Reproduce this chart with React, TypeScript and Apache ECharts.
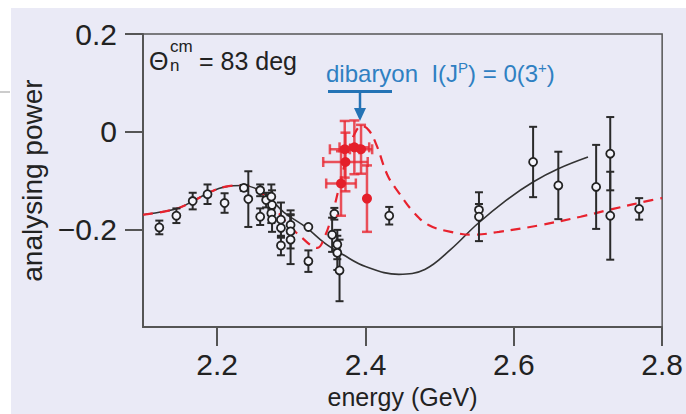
import React, { useEffect, useRef } from 'react';
import * as echarts from 'echarts';

// ---------- data ----------
const xTicks = [2.2, 2.4, 2.6, 2.8];
const yTicks = [-0.2, 0, 0.2];

// open (black) data points: energy, analysing power, error
const blackX = [2.122, 2.145, 2.167, 2.187, 2.21, 2.236, 2.242, 2.258, 2.258, 2.266, 2.273, 2.274, 2.273, 2.274, 2.286, 2.286, 2.286, 2.299, 2.299, 2.299, 2.323, 2.323, 2.358, 2.355, 2.362, 2.362, 2.365, 2.432, 2.553, 2.553, 2.626, 2.66, 2.711, 2.73, 2.73, 2.769];
const blackY = [-0.196, -0.172, -0.142, -0.128, -0.146, -0.115, -0.138, -0.12, -0.174, -0.14, -0.133, -0.15, -0.167, -0.18, -0.18, -0.197, -0.233, -0.191, -0.204, -0.221, -0.195, -0.265, -0.168, -0.211, -0.231, -0.248, -0.284, -0.172, -0.16, -0.174, -0.062, -0.11, -0.113, -0.045, -0.172, -0.158];
const blackErr = [0.014, 0.015, 0.017, 0.02, 0.02, 0.006, 0.057, 0.012, 0.017, 0.015, 0.025, 0.03, 0.02, 0.025, 0.035, 0.02, 0.02, 0.03, 0.035, 0.05, 0, 0.022, 0.012, 0.035, 0.03, 0.035, 0.063, 0.018, 0.012, 0.05, 0.072, 0.069, 0.086, 0.075, 0.09, 0.022];

// filled (red) data points
const redX = [2.367, 2.373, 2.372, 2.385, 2.394, 2.402];
const redY = [-0.106, -0.062, -0.036, -0.032, -0.036, -0.137];
const redYErr = [0.066, 0.06, 0.058, 0.055, 0.05, 0.068];
const redXErr = [0.02, 0.03, 0.02, 0.02, 0.015, 0];

// solid black curve
const solidX = [2.1, 2.13, 2.15, 2.17, 2.19, 2.21, 2.235, 2.25, 2.27, 2.29, 2.32, 2.345, 2.37, 2.4, 2.445, 2.48, 2.515, 2.55, 2.59, 2.626, 2.66, 2.7];
const solidY = [-0.17, -0.163, -0.155, -0.14, -0.124, -0.113, -0.11, -0.115, -0.135, -0.165, -0.196, -0.228, -0.252, -0.276, -0.292, -0.282, -0.241, -0.19, -0.14, -0.103, -0.076, -0.052];

// dashed red curve (with dibaryon)
const dashX = [2.1, 2.13, 2.15, 2.17, 2.19, 2.21, 2.235, 2.25, 2.27, 2.29, 2.315, 2.335, 2.345, 2.355, 2.365, 2.375, 2.385, 2.395, 2.405, 2.415, 2.43, 2.445, 2.465, 2.485, 2.515, 2.545, 2.58, 2.633, 2.69, 2.734, 2.786, 2.8];
const dashY = [-0.17, -0.163, -0.155, -0.14, -0.124, -0.113, -0.11, -0.116, -0.14, -0.18, -0.218, -0.238, -0.215, -0.17, -0.11, -0.05, -0.005, 0.012, 0.002, -0.028, -0.09, -0.125, -0.165, -0.191, -0.205, -0.211, -0.205, -0.192, -0.174, -0.158, -0.14, -0.136];

const FONT = "'Liberation Sans', Arial, sans-serif";

const zip = (a: number[], b: number[]) => a.map((v, i) => [v, b[i]]);

function errorRenderer(color: string, width: number, cap: number) {
  return (params: any, api: any) => {
    const x = api.value(0);
    const y = api.value(1);
    const ey = api.value(2);
    const ex = api.value(3);
    const children: any[] = [];
    const style = { stroke: color, lineWidth: width };
    if (ey > 0) {
      const t = api.coord([x, y + ey]);
      const b = api.coord([x, y - ey]);
      children.push({ type: 'line', shape: { x1: t[0], y1: t[1], x2: b[0], y2: b[1] }, style });
      children.push({ type: 'line', shape: { x1: t[0] - cap, y1: t[1], x2: t[0] + cap, y2: t[1] }, style });
      children.push({ type: 'line', shape: { x1: b[0] - cap, y1: b[1], x2: b[0] + cap, y2: b[1] }, style });
    }
    if (ex > 0) {
      const l = api.coord([x - ex, y]);
      const r = api.coord([x + ex, y]);
      children.push({ type: 'line', shape: { x1: l[0], y1: l[1], x2: r[0], y2: r[1] }, style });
      children.push({ type: 'line', shape: { x1: l[0], y1: l[1] - cap, x2: l[0], y2: l[1] + cap }, style });
      children.push({ type: 'line', shape: { x1: r[0], y1: r[1] - cap, x2: r[0], y2: r[1] + cap }, style });
    }
    return { type: 'group', children };
  };
}

export default function App() {
  const ref = useRef<HTMLDivElement>(null);
  useEffect(() => {
    if (!ref.current) return;
    const chart = echarts.init(ref.current, undefined, { renderer: 'svg' });
    const axisColor = '#555';
    chart.setOption({
      animation: false,
      backgroundColor: '#ffffff',
      textStyle: { fontFamily: FONT },
      grid: {
        left: 143, right: 9, top: 34, bottom: 84,
        show: true, borderColor: axisColor, borderWidth: 1.5, backgroundColor: 'transparent',
      },
      xAxis: {
        type: 'value', min: 2.1, max: 2.8,
        name: 'energy (GeV)', nameLocation: 'middle', nameGap: 50,
        nameTextStyle: { fontSize: 25, color: '#222', fontFamily: FONT },
        axisLine: { show: true, onZero: false, lineStyle: { color: axisColor, width: 2 } },
        axisTick: { show: true, customValues: xTicks, length: 19, lineStyle: { color: axisColor, width: 2 } },
        axisLabel: { customValues: xTicks, fontSize: 30, color: '#222', fontFamily: FONT, margin: 22,
          formatter: (v: number) => v.toFixed(1) },
        splitLine: { show: false },
      },
      yAxis: {
        type: 'value', min: -0.4, max: 0.2,
        name: 'analysing power', nameLocation: 'middle', nameGap: 86, nameRotate: 90,
        nameTextStyle: { fontSize: 28, color: '#222', fontFamily: FONT },
        axisLine: { show: true, onZero: false, lineStyle: { color: axisColor, width: 2 } },
        axisTick: { show: true, customValues: yTicks, length: 18, lineStyle: { color: axisColor, width: 2 } },
        axisLabel: { customValues: yTicks, fontSize: 30, color: '#222', fontFamily: FONT, margin: 26,
          formatter: (v: number) => (Math.abs(v) < 1e-9 ? '0' : (v < 0 ? '\u2212' : '') + Math.abs(v).toFixed(1)) },
        splitLine: { show: false },
      },
      graphic: [
        { type: 'rect', z: -100, silent: true, shape: { x: 11, y: 8, width: 675, height: 406 }, style: { fill: '#eaeaf6' } },
        { type: 'line', silent: true, shape: { x1: 0, y1: 92, x2: 10, y2: 92 }, style: { stroke: '#999', lineWidth: 1 } },
        { type: 'text', x: 149, y: 48, style: { text: 'Θ', fontSize: 25, fill: '#222', fontFamily: FONT } },
        { type: 'text', x: 170, y: 38, style: { text: 'cm', fontSize: 17, fill: '#222', fontFamily: FONT } },
        { type: 'text', x: 170, y: 57, style: { text: 'n', fontSize: 17, fill: '#222', fontFamily: FONT } },
        { type: 'text', x: 199, y: 48, style: { text: '= 83 deg', fontSize: 25, fill: '#222', fontFamily: FONT } },
        {
          type: 'text', x: 326, y: 60,
          style: {
            text: 'dibaryon  I(J{sup|P}) = 0(3{sup|+})', fontSize: 24, fill: '#2f80c2', fontFamily: FONT,
            rich: { sup: { fontSize: 15, fill: '#2f80c2', fontFamily: FONT, verticalAlign: 'top', padding: [0, 0, 12, 0] } },
          },
        },
        { type: 'line', shape: { x1: 328, y1: 91.5, x2: 392, y2: 91.5 }, style: { stroke: '#2473b5', lineWidth: 3 } },
        { type: 'line', shape: { x1: 360, y1: 92, x2: 360, y2: 110 }, style: { stroke: '#2473b5', lineWidth: 2.5 } },
        { type: 'polygon', shape: { points: [[354, 108], [366, 108], [360, 121]] }, style: { fill: '#2473b5' } },
      ],
      series: [
        {
          type: 'line', data: zip(solidX, solidY), smooth: 0.4, showSymbol: false, z: 2,
          lineStyle: { color: '#333', width: 1.6 },
        },
        {
          type: 'line', data: zip(dashX, dashY), smooth: 0.4, showSymbol: false, z: 3,
          lineStyle: { color: '#e8222e', width: 2.2, type: [10, 7] },
        },
        {
          type: 'custom', z: 4, renderItem: errorRenderer('#2a2a2a', 2, 4),
          encode: { x: 0, y: 1 },
          data: blackX.map((x, i) => [x, blackY[i], blackErr[i], 0]),
        },
        {
          type: 'custom', z: 6, renderItem: errorRenderer('rgba(232,40,50,0.8)', 2.5, 5),
          encode: { x: 0, y: 1 },
          data: redX.map((x, i) => [x, redY[i], redYErr[i], redXErr[i]]),
        },
        {
          type: 'scatter', z: 5, symbol: 'circle', symbolSize: 8,
          itemStyle: { color: '#f4f4fb', borderColor: '#222', borderWidth: 1.8, opacity: 1 },
          data: zip(blackX, blackY),
        },
        {
          type: 'scatter', z: 7, symbol: 'circle', symbolSize: 10,
          itemStyle: { color: '#e41f2a', opacity: 1 },
          data: zip(redX, redY),
        },
      ],
    });
    return () => chart.dispose();
  }, []);
  return <div ref={ref} style={{ position: 'fixed', left: 0, top: 0, width: 686, height: 414 }} />;
}
